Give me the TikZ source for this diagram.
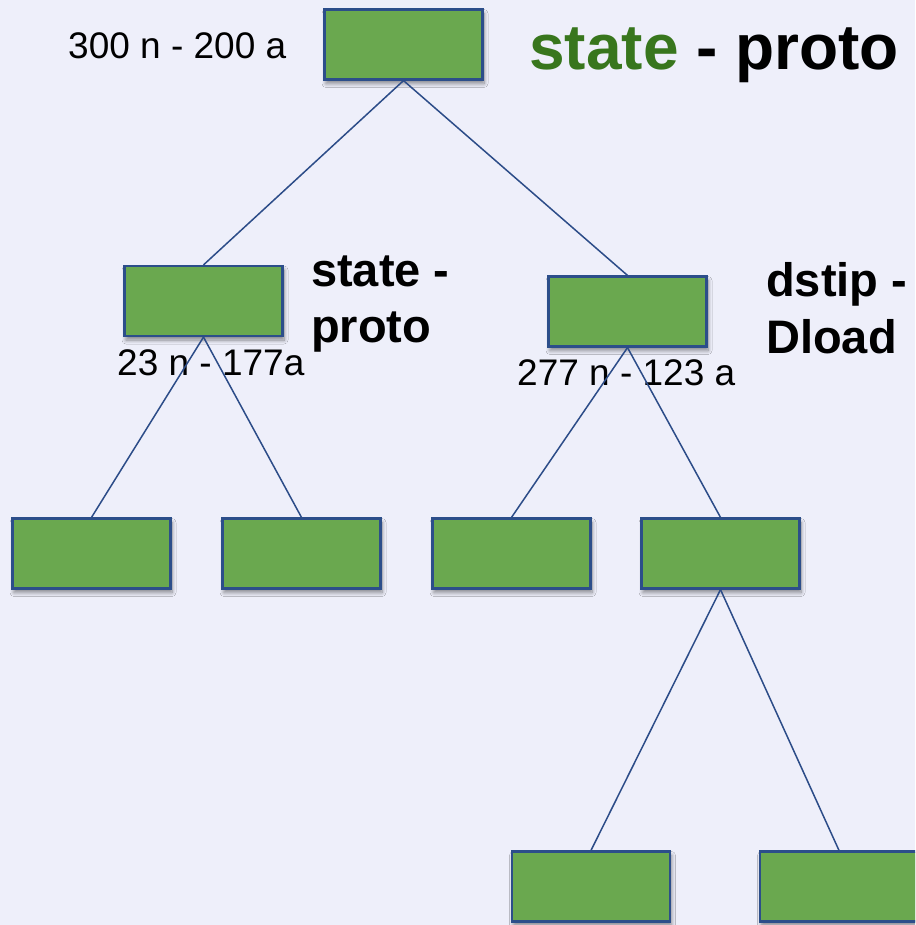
\documentclass[tikz,border=0pt]{standalone}
\usepackage{fontspec}
\setmainfont{Liberation Sans}
\usetikzlibrary{shadows.blur}

\definecolor{bgpane}{RGB}{238,239,250}
\definecolor{boxfill}{RGB}{106,168,79}
\definecolor{boxedge}{RGB}{44,78,138}
\definecolor{wire}{RGB}{44,76,136}
\definecolor{stategreen}{RGB}{56,118,29}

\tikzset{
  treebox/.style={rectangle, draw=boxedge, line width=2.2pt, fill=boxfill,
    minimum width=158pt, minimum height=70pt, inner sep=0pt,
    blur shadow={shadow xshift=1.5pt, shadow yshift=-4pt, shadow blur steps=8,
      shadow blur radius=4pt, shadow opacity=45}},
  edge/.style={draw=wire, line width=1.5pt},
  count/.style={anchor=base west, inner sep=0pt, font=\fontsize{37}{40}\selectfont},
  tag/.style={anchor=base west, inner sep=0pt, font=\fontsize{47}{49}\selectfont\bfseries},
}

\begin{document}
\begin{tikzpicture}[x=1pt, y=-1pt]
  \useasboundingbox (0,0) rectangle (915,925);
  \fill[bgpane] (0,0) rectangle (915,925);
  \clip (0,0) rectangle (915,925);

  % tree nodes
  \node[treebox] (root) at (403.5,44.5) {};
  \node[treebox] (left) at (203.5,301) {};
  \node[treebox] (right) at (627.5,311.5) {};
  \node[treebox] (ll) at (91.5,553.5) {};
  \node[treebox] (lr) at (301.5,553.5) {};
  \node[treebox] (rl) at (511.5,553.5) {};
  \node[treebox] (rr) at (720.5,553.5) {};
  \node[treebox] (rrl) at (591,886.5) {};
  \node[treebox] (rrr) at (839,886.5) {};

  % counts under / beside the nodes
  \node[count] (c0) at (68,59) {300 n - 200 a};
  \node[count] (c1) at (117,375) {23 n - 177a};
  \node[count] (c2) at (517,385) {277 n - 123 a};

  % split labels
  \node[anchor=base west, inner sep=0pt, font=\fontsize{64}{70}\selectfont\bfseries]
    (title) at (529,70) {\textcolor{stategreen}{state} - proto};
  \node[tag] (t1a) at (311,286) {state -};
  \node[tag] (t1b) at (311,342) {proto};
  \node[tag] (t2a) at (766,296) {dstip -};
  \node[tag] (t2b) at (766,353) {Dload};

  % edges
  \draw[edge] (root.south) -- (left.north);
  \draw[edge] (root.south) -- (right.north);
  \draw[edge] (left.south) -- (ll.north);
  \draw[edge] (left.south) -- (lr.north);
  \draw[edge] (right.south) -- (rl.north);
  \draw[edge] (right.south) -- (rr.north);
  \draw[edge] (rr.south) -- (rrl.north);
  \draw[edge] (rr.south) -- (rrr.north);
\end{tikzpicture}
\end{document}
